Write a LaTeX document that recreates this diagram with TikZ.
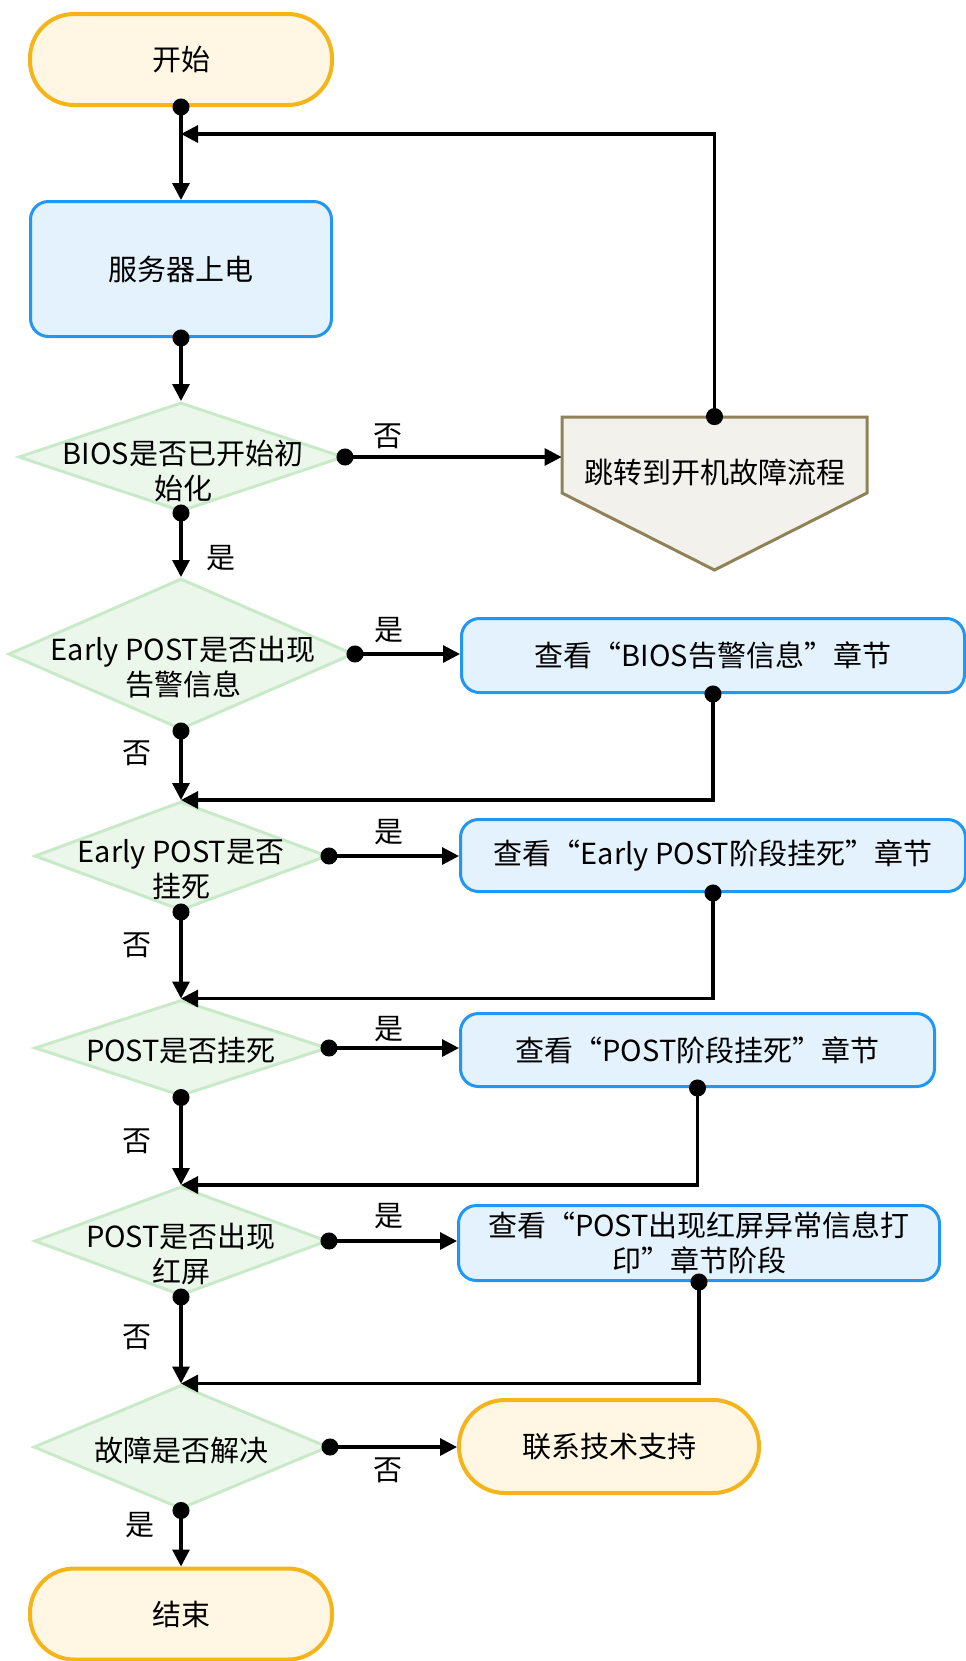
\documentclass[tikz,border=0pt]{standalone}
\usepackage{fontspec}
\setmainfont{Noto Sans CJK SC}
\usetikzlibrary{shapes.geometric,arrows.meta}

\definecolor{termline}{HTML}{F4B41A}
\definecolor{termfill}{HTML}{FFF6E3}
\definecolor{procline}{HTML}{2196F3}
\definecolor{procfill}{HTML}{E4F2FD}
\definecolor{decline}{HTML}{C8EAC8}
\definecolor{decfill}{HTML}{ECF7EC}
\definecolor{jumpline}{HTML}{8E8256}
\definecolor{jumpfill}{HTML}{F2F1EC}

\tikzset{
  terminal/.style={rectangle, rounded corners=22pt, draw=termline, fill=termfill, line width=2pt, minimum width=151pt, minimum height=45.5pt, inner sep=0},
  process/.style={rectangle, rounded corners=9pt, draw=procline, fill=procfill, line width=1.5pt, inner sep=0, align=center},
  decision/.style={diamond, draw=decline, fill=decfill, line width=1.5pt, inner sep=0},
  dtext/.style={inner sep=0, align=center},
  jumpbox/.style={rectangle, minimum width=152.5pt, minimum height=55pt, inner sep=0},
  jumpshape/.style={draw=jumpline, fill=jumpfill, line width=1.5pt},
  conn/.style={line width=1.6pt, {Circle[length=8.5pt]}-{Triangle[length=8.5pt,width=8.5pt]}, shorten <=-4.25pt},
  lbl/.style={inner sep=1pt}
}

\begin{document}
\begin{tikzpicture}[x=0.5pt, y=-0.5pt, font=\fontsize{14.5pt}{17.5pt}\selectfont]
\useasboundingbox (0,0) rectangle (965,1661);

% main column
\node [terminal] (start) at (181,59.5) {开始};
\node [process, minimum width=150.5pt, minimum height=67.5pt] (power) at (181,269) {服务器上电};
\node [decision, minimum width=162.5pt, minimum height=54.5pt] (bios) at (181,457) {};
\node [dtext] at ([xshift=1pt,yshift=-7pt]bios) {BIOS是否已开始初\\始化};
\node [decision, minimum width=172.5pt, minimum height=75.5pt] (early) at (181,654) {};
\node [dtext] at ([xshift=1pt,yshift=-6.5pt]early) {Early POST是否出现\\告警信息};
\node [decision, minimum width=146.5pt, minimum height=54.5pt] (hang) at (181,856) {};
\node [dtext] at ([yshift=-6.75pt]hang) {Early POST是否\\挂死};
\node [decision, minimum width=146.5pt, minimum height=48pt] (posthang) at (181,1048) {};
\node [dtext] at ([yshift=-1pt]posthang) {POST是否挂死};
\node [decision, minimum width=146.5pt, minimum height=54.5pt] (red) at (181,1241) {};
\node [dtext] at ([yshift=-6.75pt]red) {POST是否出现\\红屏};
\node [decision, minimum width=147.5pt, minimum height=62pt] (solved) at (181,1447) {};
\node [dtext] at ([yshift=-1.5pt]solved) {故障是否解决};
\node [terminal] (stop) at (181,1614) {结束};

% right column
\filldraw [jumpshape] (562,417) -- (867,417) -- (867,493) -- (714.5,570) -- (562,493) -- cycle;
\node [jumpbox] (jump) at (714.5,472) {跳转到开机故障流程};
\node [process, minimum width=251.5pt, minimum height=37pt] (seebios) at (713,655.5) {查看“BIOS告警信息”章节};
\node [process, minimum width=252.5pt, minimum height=36pt] (seeearly) at (713,855.5) {查看“Early POST阶段挂死”章节};
\node [process, minimum width=237pt, minimum height=36.5pt] (seepost) at (697.5,1050) {查看“POST阶段挂死”章节};
\node [process, minimum width=240.5pt, minimum height=37.5pt] (seered) at (699,1243) {查看“POST出现红屏异常信息打\\印”章节阶段};
\node [terminal, minimum width=150pt, minimum height=46.5pt, rounded corners=23pt] (support) at (609,1446.5) {联系技术支持};

\coordinate (back) at (181,134);

% connectors
\draw [conn] (start.south) -- (power.north);
\draw [conn] (power.south) -- (bios.north);
\draw [conn] (bios.east) -- (bios.east -| jump.west) node [lbl, pos=0.2, above=2.5pt] {否};
\draw [conn] (jump.north) |- (back);
\draw [conn] (bios.south) -- (early.north) node [lbl, pos=0.7, right=11pt] {是};
\draw [conn] (early.east) -- (early.east -| seebios.west) node [lbl, pos=0.32, above=4pt] {是};
\draw [conn] (early.south) -- (hang.north) node [lbl, pos=0.33, left=13pt] {否};
\draw [conn] (seebios.south) |- (hang.north);
\draw [conn] (hang.east) -- (hang.east -| seeearly.west) node [lbl, pos=0.46, above=4pt] {是};
\draw [conn] (hang.south) -- (posthang.north) node [lbl, pos=0.38, left=13pt] {否};
\draw [conn] (seeearly.south) |- (posthang.north);
\draw [conn] (posthang.east) -- (posthang.east -| seepost.west) node [lbl, pos=0.46, above=1.5pt] {是};
\draw [conn] (posthang.south) -- (red.north) node [lbl, pos=0.5, left=13pt] {否};
\draw [conn] (seepost.south) |- (red.north);
\draw [conn] (red.east) -- (red.east -| seered.west) node [lbl, pos=0.47, above=4.5pt] {是};
\draw [conn] (red.south) -- (solved.north) node [lbl, pos=0.47, left=13pt] {否};
\draw [conn] (seered.south) |- (solved.north);
\draw [conn] (solved.east) -- (solved.east -| support.west) node [lbl, pos=0.46, below=3.5pt] {否};
\draw [conn] (solved.south) -- (stop.north) node [lbl, pos=0.26, left=11.5pt] {是};

\end{tikzpicture}
\end{document}
